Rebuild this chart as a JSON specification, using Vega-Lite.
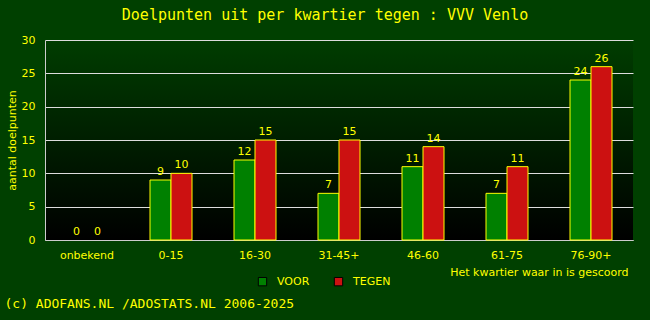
{
  "$schema": "https://vega.github.io/schema/vega-lite/v6.json",
  "width": 588,
  "height": 200,
  "autosize": {"type": "none"},
  "padding": {"left": 45, "top": 40, "right": 17, "bottom": 80},
  "background": "#004000",
  "title": {
    "text": "Doelpunten uit per kwartier tegen : VVV Venlo",
    "anchor": "middle",
    "frame": "group",
    "dx": -14,
    "offset": 11,
    "font": "DejaVu Sans Mono",
    "fontSize": 15,
    "fontWeight": "normal",
    "color": "#ffff00"
  },
  "data": {
    "values": [
      {"kwartier": "onbekend", "side": "VOOR", "goals": 0},
      {"kwartier": "onbekend", "side": "TEGEN", "goals": 0},
      {"kwartier": "0-15", "side": "VOOR", "goals": 9},
      {"kwartier": "0-15", "side": "TEGEN", "goals": 10},
      {"kwartier": "16-30", "side": "VOOR", "goals": 12},
      {"kwartier": "16-30", "side": "TEGEN", "goals": 15},
      {"kwartier": "31-45+", "side": "VOOR", "goals": 7},
      {"kwartier": "31-45+", "side": "TEGEN", "goals": 15},
      {"kwartier": "46-60", "side": "VOOR", "goals": 11},
      {"kwartier": "46-60", "side": "TEGEN", "goals": 14},
      {"kwartier": "61-75", "side": "VOOR", "goals": 7},
      {"kwartier": "61-75", "side": "TEGEN", "goals": 11},
      {"kwartier": "76-90+", "side": "VOOR", "goals": 24},
      {"kwartier": "76-90+", "side": "TEGEN", "goals": 26}
    ]
  },
  "encoding": {
    "x": {
      "field": "kwartier",
      "type": "nominal",
      "sort": ["onbekend", "0-15", "16-30", "31-45+", "46-60", "61-75", "76-90+"],
      "scale": {"paddingInner": 0.5, "paddingOuter": 0.25}
    },
    "xOffset": {"field": "side", "type": "nominal", "sort": ["VOOR", "TEGEN"]},
    "y": {
      "field": "goals",
      "type": "quantitative",
      "scale": {"domain": [0, 30], "nice": false},
      "axis": {
        "title": "aantal doelpunten",
        "values": [0, 5, 10, 15, 20, 25, 30],
        "ticks": false,
        "labelPadding": 10,
        "grid": true,
        "gridColor": "#dddddd",
        "gridOpacity": 1,
        "domainColor": "#cccccc",
        "titlePadding": 4
      }
    }
  },
  "layer": [
    {
      "mark": {"type": "bar", "stroke": "#ffff00", "strokeWidth": 1},
      "encoding": {
        "x": {
          "field": "kwartier",
          "type": "nominal",
          "sort": ["onbekend", "0-15", "16-30", "31-45+", "46-60", "61-75", "76-90+"],
          "axis": {
            "orient": "bottom",
            "title": "Het kwartier waar in is gescoord",
            "labelAngle": 0,
            "ticks": false,
            "labelPadding": 9,
            "domainColor": "#cccccc",
            "titleAnchor": "end",
            "titleAlign": "right",
            "titleX": 583,
            "titleY": 32,
            "titleBaseline": "middle"
          }
        },
        "opacity": {"condition": {"test": "datum.goals > 0", "value": 1}, "value": 0},
        "color": {
          "field": "side",
          "type": "nominal",
          "scale": {"domain": ["VOOR", "TEGEN"], "range": ["#008000", "#cc1111"]},
          "legend": {
            "title": null,
            "orient": "none",
            "direction": "horizontal",
            "legendX": 212,
            "legendY": 236,
            "symbolType": "square",
            "symbolSize": 70,
            "symbolOpacity": 1,
            "symbolStrokeColor": "#000000",
            "symbolStrokeWidth": 1,
            "labelOffset": 9,
            "columnPadding": 22
          }
        }
      }
    },
    {
      "mark": {"type": "text", "baseline": "bottom", "dy": -3, "color": "#ffff00", "fontSize": 11, "font": "DejaVu Sans"},
      "encoding": {
        "x": {
          "field": "kwartier",
          "type": "nominal",
          "sort": ["onbekend", "0-15", "16-30", "31-45+", "46-60", "61-75", "76-90+"],
          "axis": {
            "orient": "bottom",
            "title": "(c) ADOFANS.NL /ADOSTATS.NL 2006-2025",
            "labels": false,
            "ticks": false,
            "domain": false,
            "grid": false,
            "titleFont": "DejaVu Sans Mono",
            "titleFontSize": 13,
            "titleAnchor": "start",
            "titleAlign": "left",
            "titleX": -41,
            "titleY": 63,
            "titleBaseline": "middle"
          }
        },
        "text": {"field": "goals", "type": "quantitative"}
      }
    }
  ],
  "resolve": {"axis": {"x": "independent"}},
  "config": {
    "view": {
      "stroke": null,
      "fill": {
        "gradient": "linear",
        "x1": 0, "y1": 0, "x2": 0, "y2": 1,
        "stops": [
          {"offset": 0, "color": "#003d00"},
          {"offset": 1, "color": "#000000"}
        ]
      }
    },
    "axis": {
      "labelColor": "#ffff00",
      "titleColor": "#ffff00",
      "labelFont": "DejaVu Sans",
      "titleFont": "DejaVu Sans",
      "labelFontSize": 11,
      "titleFontSize": 11,
      "titleFontWeight": "normal"
    },
    "legend": {
      "labelColor": "#ffff00",
      "labelFont": "DejaVu Sans",
      "labelFontSize": 11
    }
  }
}
